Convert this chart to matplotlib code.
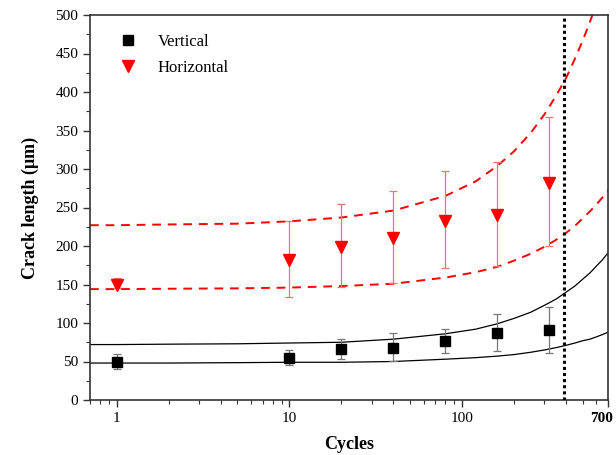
import numpy as np
import matplotlib
matplotlib.use("Agg")
import matplotlib.pyplot as plt
import matplotlib.transforms as mtransforms
from matplotlib.lines import Line2D
from matplotlib.ticker import FixedLocator, LogLocator, NullFormatter, MultipleLocator

plt.rcParams["font.family"] = ["Liberation Serif", "DejaVu Serif"]

# ============================================================
# DATA
# ============================================================

cycles = [1, 10, 20, 40, 80, 160, 320]

vert_mean = [50, 55, 66, 68, 76, 87, 91]
vert_low  = [40, 45, 53, 51, 61, 64, 61]
vert_high = [60, 65, 79, 87, 92, 112, 121]

horiz_mean = [150, 182, 199, 211, 233, 240, 282]
horiz_low  = [146, 134, 147, 152, 172, 174, 200]
horiz_high = [158, 232, 254, 271, 298, 309, 367]

# bound curves
curve_x = [0.7, 1, 2, 5, 10, 20, 40, 80, 120, 160, 200, 250, 300, 350,
           400, 450, 500, 550, 600, 650, 700]
horiz_upper = [227, 227, 228, 229, 232, 237, 246, 265, 284, 304, 323, 347, 371, 395,
               418, 443, 467, 491, 515, 539, 563]
horiz_lower = [144, 144, 144.5, 145, 146, 148, 151, 159, 166, 173, 181, 190, 199, 208,
               217, 226, 236, 245, 254, 263, 272]
vert_upper  = [72, 72, 72.5, 73, 74, 75, 79, 86, 92, 99, 106, 114, 123, 131,
               140, 148, 157, 165, 174, 182, 191]
vert_lower  = [48, 48, 48, 48.5, 49, 49, 50, 53, 55, 57, 59, 62, 65, 68,
               71, 74, 77, 79, 82, 85, 88]

limit_cycles = 390

# ============================================================
# FIGURE
# ============================================================

fig = plt.figure(figsize=(6.16, 4.55), dpi=100)
ax = fig.add_axes([90 / 616, 1 - 400 / 455, 518 / 616, 385 / 455])

ax.plot(curve_x, horiz_upper, color="red", ls=(0, (4.5, 3.5)), lw=1.4)
ax.plot(curve_x, horiz_lower, color="red", ls=(0, (4.5, 3.5)), lw=1.4)
ax.plot(curve_x, vert_upper, color="black", lw=0.9)
ax.plot(curve_x, vert_lower, color="black", lw=0.9)

v_err = [np.array(vert_mean) - np.array(vert_low),
         np.array(vert_high) - np.array(vert_mean)]
h_err = [np.array(horiz_mean) - np.array(horiz_low),
         np.array(horiz_high) - np.array(horiz_mean)]

ax.errorbar(cycles, vert_mean, yerr=v_err, fmt="s", color="black",
            ms=6.5, ecolor="#777777", elinewidth=0.9, capsize=3, capthick=0.9,
            zorder=4)
ax.errorbar(cycles, horiz_mean, yerr=h_err, fmt="v", color="red",
            ms=9, ecolor="#ff7070", elinewidth=0.9, capsize=3, capthick=0.9,
            zorder=4)

ax.axvline(limit_cycles, color="black", ls=(0, (1, 1)), lw=2.2, zorder=5)

ax.set_xscale("log")
ax.set_xlim(0.7, 700)
ax.set_ylim(0, 500)

ax.xaxis.set_major_locator(FixedLocator([1, 10, 100, 700]))
ax.set_xticklabels(["1", "10", "100", "700"])
ax.xaxis.set_minor_locator(LogLocator(base=10, subs=np.arange(2, 10)))
ax.xaxis.set_minor_formatter(NullFormatter())
ax.yaxis.set_major_locator(MultipleLocator(50))
ax.yaxis.set_minor_locator(MultipleLocator(25))

ax.tick_params(which="major", length=5, width=1, labelsize=11, color="#333333")
ax.tick_params(which="minor", length=3, width=0.8, color="#333333")

# last x label sits at the right edge: nudge it in so it stays visible
last = ax.get_xticklabels()[-1]
last.set_fontweight("bold")
last.set_transform(last.get_transform() +
                   mtransforms.ScaledTranslation(-6 / 100, 0, fig.dpi_scale_trans))

for s in ax.spines.values():
    s.set_linewidth(1.2)
    s.set_color("#333333")

ax.set_xlabel("Cycles", fontsize=13, fontweight="bold", labelpad=8)
ax.set_ylabel("Crack length (\u03bcm)", fontsize=13, fontweight="bold", labelpad=12)

handles = [
    Line2D([], [], ls="none", marker="s", color="black", ms=6.5),
    Line2D([], [], ls="none", marker="v", color="red", ms=9),
]
ax.legend(handles, ["Vertical", "Horizontal"], loc="upper left",
          bbox_to_anchor=(0.025, 0.99), frameon=False, fontsize=12,
          handlelength=1.2, handletextpad=1.2, labelspacing=0.6)

plt.savefig("out.png", dpi=100)
